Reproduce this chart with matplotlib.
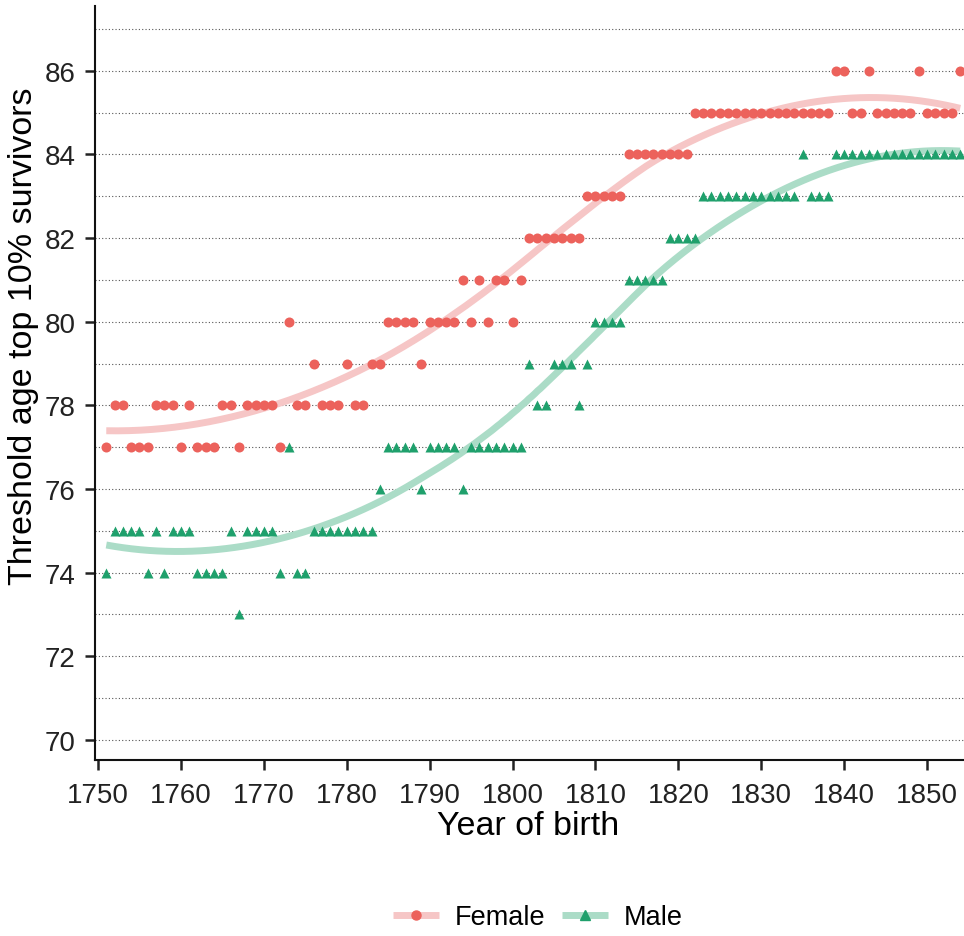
import numpy as np
import matplotlib
matplotlib.use("Agg")
import matplotlib.pyplot as plt
from matplotlib.lines import Line2D

plt.rcParams['font.family'] = ['Liberation Sans', 'DejaVu Sans']

years = list(range(1751, 1855))
female = [77, 78, 78, 77, 77, 77, 78, 78, 78, 77,
          78, 77, 77, 77, 78, 78, 77, 78, 78, 78,
          78, 77, 80, 78, 78, 79, 78, 78, 78, 79,
          78, 78, 79, 79, 80, 80, 80, 80, 79, 80,
          80, 80, 80, 81, 80, 81, 80, 81, 81, 80,
          81, 82, 82, 82, 82, 82, 82, 82, 83, 83,
          83, 83, 83, 84, 84, 84, 84, 84, 84, 84,
          84, 85, 85, 85, 85, 85, 85, 85, 85, 85,
          85, 85, 85, 85, 85, 85, 85, 85, 86, 86,
          85, 85, 86, 85, 85, 85, 85, 85, 86, 85,
          85, 85, 85, 86]
male = [74, 75, 75, 75, 75, 74, 75, 74, 75, 75,
        75, 74, 74, 74, 74, 75, 73, 75, 75, 75,
        75, 74, 77, 74, 74, 75, 75, 75, 75, 75,
        75, 75, 75, 76, 77, 77, 77, 77, 76, 77,
        77, 77, 77, 76, 77, 77, 77, 77, 77, 77,
        77, 79, 78, 78, 79, 79, 79, 78, 79, 80,
        80, 80, 80, 81, 81, 81, 81, 81, 82, 82,
        82, 82, 83, 83, 83, 83, 83, 83, 83, 83,
        83, 83, 83, 83, 84, 83, 83, 83, 84, 84,
        84, 84, 84, 84, 84, 84, 84, 84, 84, 84,
        84, 84, 84, 84]
labels = ["Female", "Male"]
xticks = list(range(1750, 1851, 10))
yticks = list(range(70, 87, 2))

pt_colors = ["#EC625C", "#1FA06C"]
line_colors = ["#F6C6C6", "#ABDCC7"]
markers = ["o", "^"]


def loess(x, y, xs, span=0.75):
    x = np.asarray(x, float)
    y = np.asarray(y, float)
    n = len(x)
    q = int(np.floor(span * n))
    out = []
    for x0 in xs:
        d = np.abs(x - x0)
        h = np.sort(d)[q - 1]
        w = np.clip(1 - (d / h) ** 3, 0, None) ** 3
        X = np.vstack([np.ones(n), x - x0, (x - x0) ** 2]).T
        sw = np.sqrt(w)
        beta = np.linalg.lstsq(X * sw[:, None], y * sw, rcond=None)[0]
        out.append(beta[0])
    return np.array(out)


W, H = 964, 937
fig = plt.figure(figsize=(W / 100, H / 100), dpi=100)
ax = fig.add_axes([95 / W, 1 - 761 / H, (W - 95) / W, (761 - 7) / H])

for yv in range(70, 88):
    ax.axhline(yv, color="#555555", lw=0.8, ls=(0, (1, 2)), zorder=0)

xs = np.linspace(min(years), max(years), 300)
handles = []
for vals, lab, pc, lc, mk in zip([female, male], labels, pt_colors, line_colors, markers):
    ax.plot(xs, loess(years, vals, xs), color=lc, lw=5, solid_capstyle="butt", zorder=2)
    ax.scatter(years, vals, s=52, marker=mk, color=pc, linewidths=0, zorder=3)
    handles.append(Line2D([], [], color=lc, lw=5, marker=mk, markersize=6.5,
                          markerfacecolor=pc, markeredgecolor=pc, solid_capstyle="butt"))

ax.set_xlim(1749.64, 1854.46)
ax.set_ylim(69.52, 87.55)
ax.set_xticks(xticks)
ax.set_yticks(yticks)
ax.tick_params(axis="both", labelsize=20, length=7, width=1.8, colors="#222222")
ax.tick_params(axis="x", pad=9)
ax.tick_params(axis="y", pad=7)
for s in ["top", "right"]:
    ax.spines[s].set_visible(False)
for s in ["left", "bottom"]:
    ax.spines[s].set_linewidth(1.5)
    ax.spines[s].set_color("#111111")

fig.text(528 / W, 1 - 827 / H, "Year of birth", fontsize=24.5, ha="center", va="center")
fig.text(24 / W, 1 - 336 / H, "Threshold age top 10% survivors", fontsize=24.5,
         rotation=90, ha="center", va="center")

fig.legend(handles=handles, labels=labels, loc="center", bbox_to_anchor=(538 / W, 1 - 918 / H),
           ncol=2, frameon=False, fontsize=19.5, handlelength=1.7, columnspacing=0.6,
           handletextpad=0.6)

fig.savefig("out.png", dpi=100)
